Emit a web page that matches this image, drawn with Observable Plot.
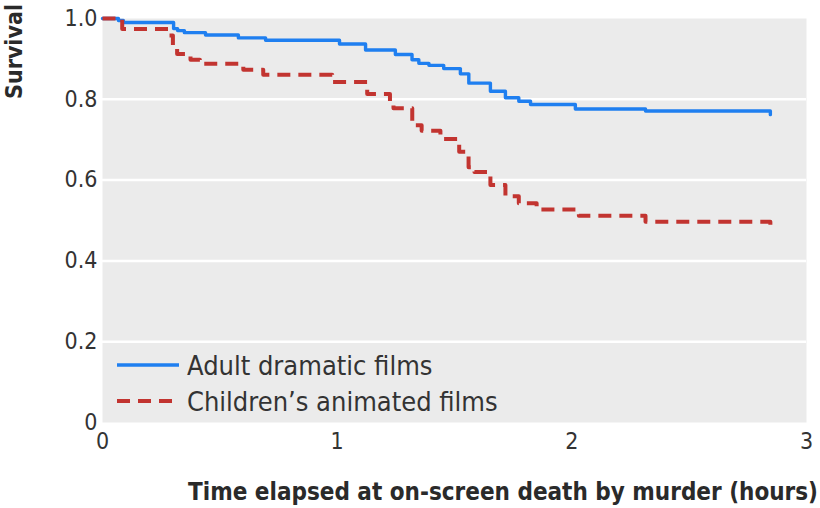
<!DOCTYPE html>
<html>
<head>
<meta charset="utf-8">
<script src="https://cdn.jsdelivr.net/npm/d3@7"></script>
<script src="https://cdn.jsdelivr.net/npm/@observablehq/plot@0.6"></script>
<style>
  html, body { margin: 0; padding: 0; background: #fff; }
  #chart { width: 820px; height: 508px; }
  svg { font-family: "Liberation Sans Narrow", "DejaVu Sans Condensed", sans-serif; }
</style>
</head>
<body>
<div id="chart"></div>
<script>
// Adult dramatic films (Kaplan–Meier steps)
const adultTime = [0, 0.068, 0.089, 0.303, 0.32, 0.349, 0.439, 0.579, 0.695, 1.010, 1.121, 1.248, 1.319, 1.348, 1.391, 1.454, 1.525, 1.561, 1.653, 1.717, 1.774, 1.824, 2.015, 2.314, 2.846];
const adultSurv = [1.0, 0.995, 0.990, 0.975, 0.970, 0.965, 0.959, 0.952, 0.946, 0.937, 0.922, 0.911, 0.898, 0.889, 0.884, 0.876, 0.863, 0.840, 0.820, 0.804, 0.795, 0.787, 0.776, 0.771, 0.762];
// Children's animated films
const childTime = [0, 0.084, 0.283, 0.300, 0.318, 0.375, 0.415, 0.600, 0.685, 0.979, 1.128, 1.225, 1.240, 1.320, 1.360, 1.440, 1.520, 1.560, 1.585, 1.653, 1.717, 1.774, 1.850, 2.030, 2.314, 2.846];
const childSurv = [1.0, 0.974, 0.958, 0.930, 0.912, 0.898, 0.888, 0.873, 0.861, 0.843, 0.813, 0.795, 0.778, 0.736, 0.722, 0.702, 0.670, 0.632, 0.620, 0.588, 0.560, 0.543, 0.527, 0.512, 0.497, 0.480];

const seriesNames = ["Adult dramatic films", "Children’s animated films"];
const xTicks = [0, 1, 2, 3];
const yTicks = [0, 0.2, 0.4, 0.6, 0.8, 1.0];
const xTitle = "Time elapsed at on-screen death by murder (hours)";
const yTitle = "Survival";

const adult = adultTime.map((t, i) => ({t, s: adultSurv[i]}));
const child = childTime.map((t, i) => ({t, s: childSurv[i]}));

const blue = "#1f7ff0";
const red = "#c23430";
const yFmt = d => d === 0 ? "0" : d.toFixed(1);

const plot = Plot.plot({
  width: 820,
  height: 508,
  marginLeft: 102,
  marginRight: 14,
  marginTop: 18,
  marginBottom: 86,
  style: {fontSize: "22px", color: "#333", background: "#fff", overflow: "visible"},
  x: {domain: [0, 3], label: null},
  y: {domain: [0, 1], label: null},
  marks: [
    Plot.frame({fill: "#ebebeb", stroke: null}),
    Plot.gridY(yTicks.filter(d => d > 0 && d < 1), {stroke: "#fff", strokeOpacity: 1, strokeWidth: 2.5}),
    Plot.axisX({ticks: xTicks, tickSize: 0, tickPadding: 10, label: null, fontSize: 23, tickFormat: d3.format("d")}),
    Plot.axisY({ticks: yTicks, tickSize: 0, tickPadding: 5, label: null, fontSize: 23, tickFormat: yFmt}),
    Plot.line(adult, {x: "t", y: "s", curve: "step-after", stroke: blue, strokeWidth: 3.4}),
    Plot.line(child, {x: "t", y: "s", curve: "step-after", stroke: red, strokeWidth: 4, strokeDasharray: "13,8", strokeLinecap: "butt"})
  ]
});

document.getElementById("chart").appendChild(plot);

const svg = d3.select(plot);
// axis titles
svg.append("text")
  .attr("x", 818).attr("y", 500)
  .attr("text-anchor", "end")
  .attr("font-weight", "bold")
  .attr("font-size", 24)
  .attr("fill", "#2a2a2a")
  .text(xTitle);
svg.append("text")
  .attr("transform", "translate(22,4) rotate(-90)")
  .attr("text-anchor", "end")
  .attr("font-weight", "bold")
  .attr("font-size", 23)
  .attr("fill", "#2a2a2a")
  .text(yTitle);

// legend
const leg = svg.append("g");
const items = [
  {name: seriesNames[0], color: blue, dash: null, w: 3.4},
  {name: seriesNames[1], color: red, dash: "13,8", w: 4}
];
items.forEach((it, i) => {
  const y = 365 + i * 36;
  leg.append("line")
    .attr("x1", 117).attr("x2", 179).attr("y1", y).attr("y2", y)
    .attr("stroke", it.color).attr("stroke-width", it.w)
    .attr("stroke-dasharray", it.dash);
  leg.append("text")
    .attr("x", 187).attr("y", y).attr("dy", "0.36em")
    .attr("text-anchor", "start")
    .attr("font-size", 27).attr("fill", "#333")
    .text(it.name);
});
</script>
</body>
</html>
